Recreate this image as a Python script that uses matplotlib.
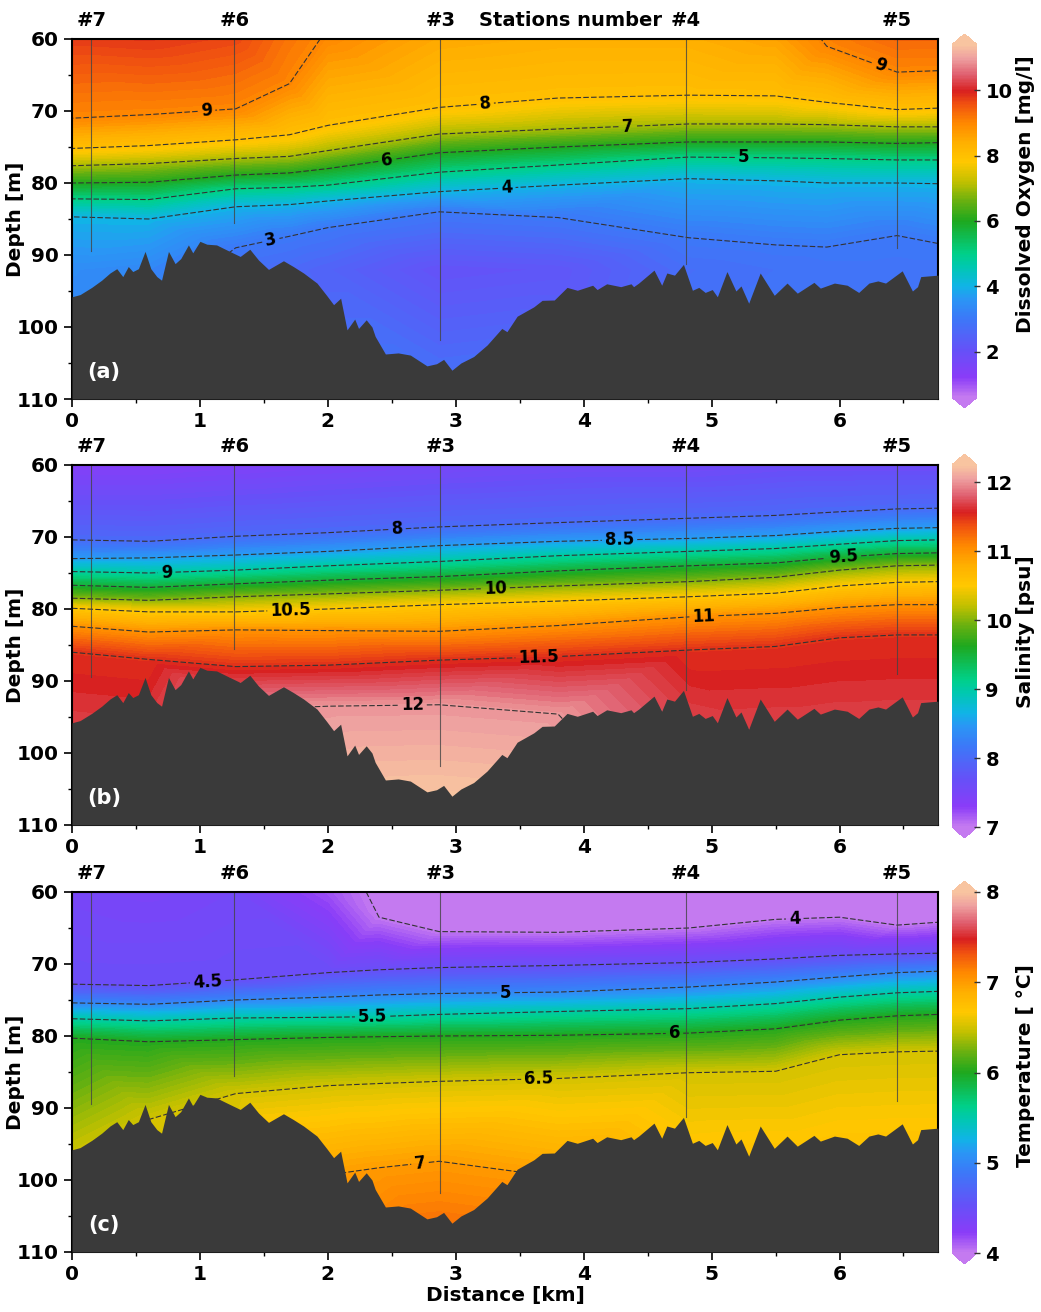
import numpy as np
import matplotlib.pyplot as plt
import matplotlib.tri as mtri
from matplotlib.colors import LinearSegmentedColormap, Normalize
from matplotlib.cm import ScalarMappable

plt.rcParams['font.family'] = 'DejaVu Sans'
plt.rcParams['font.weight'] = 'bold'
plt.rcParams['axes.labelweight'] = 'bold'
plt.rcParams['lines.dashed_pattern'] = [5, 2]

nan = np.nan

# sea floor along the transect (km, m) - same for all three sections
bathy_x = [0.0, 0.063, 0.154, 0.232, 0.297, 0.35, 0.397, 0.44, 0.475, 0.519, 0.571, 0.616,
           0.663, 0.70, 0.754, 0.806, 0.85, 0.91, 0.944, 1.0, 1.054, 1.13, 1.21, 1.315,
           1.39, 1.458, 1.536, 1.653, 1.73, 1.81, 1.915, 1.99, 2.045, 2.10, 2.15, 2.21,
           2.24, 2.30, 2.345, 2.37, 2.45, 2.55, 2.645, 2.775, 2.85, 2.905, 2.97, 3.04,
           3.14, 3.245, 3.36, 3.40, 3.48, 3.61, 3.675, 3.77, 3.87, 3.95, 4.07, 4.105,
           4.18, 4.29, 4.37, 4.39, 4.43, 4.55, 4.61, 4.65, 4.71, 4.78, 4.85, 4.90, 4.95,
           5.005, 5.045, 5.12, 5.19, 5.23, 5.29, 5.38, 5.49, 5.59, 5.67, 5.80, 5.85, 5.96,
           6.06, 6.15, 6.23, 6.30, 6.36, 6.49, 6.57, 6.61, 6.635, 6.77]
bathy_depth = [95.8, 95.5, 94.5, 93.5, 92.5, 91.9, 93.0, 91.6, 92.3, 91.9, 89.5, 91.9,
               93.0, 93.5, 89.5, 91.2, 90.5, 88.6, 89.7, 88.1, 88.5, 88.6, 89.3, 90.2,
               89.2, 90.7, 92.0, 90.8, 91.6, 92.5, 93.9, 95.6, 96.9, 96.0, 100.4, 98.9,
               100.2, 99.0, 100.0, 101.3, 103.75, 103.6, 103.9, 105.4, 105.1, 104.5, 106.0, 105.0,
               104.1, 102.5, 100.2, 100.65, 98.5, 97.2, 96.3, 96.25, 94.5, 94.9, 94.2, 94.8,
               94.0, 94.4, 94.0, 94.4, 93.9, 92.1, 94.2, 92.5, 92.8, 91.3, 94.9, 94.5, 95.2,
               94.8, 95.8, 92.3, 95.0, 94.3, 96.7, 92.5, 95.6, 93.9, 95.3, 93.8, 94.6, 93.9,
               94.2, 95.2, 93.9, 93.6, 93.9, 92.2, 95.0, 94.4, 93.0, 92.8]

station_names = ['#7', '#6', '#3', '#4', '#5']
station_x = [0.15, 1.27, 2.88, 4.80, 6.45]
station_end = [89.5, 85.6, 101.8, 91.2, 89.0]

# (a) dissolved oxygen: depth of each isoline at a set of distances
ox_cols = [0, 0.6, 1.28, 1.7, 2.0, 2.87, 3.8, 4.82, 5.5, 5.9, 6.45, 6.77]
ox_levels = [9, 8, 7, 6, 5, 4, 3]
ox_depths = [
    [71.0, 70.5, 69.7, 66.2, nan, nan, nan, nan, nan, 61.0, 64.6, 64.4],
    [75.2, 74.8, 74.0, 73.3, 72.0, 69.5, 68.2, 67.8, 67.9, 68.8, 69.8, 69.6],
    [77.6, 77.3, 76.6, 76.3, 75.5, 73.2, 72.5, 71.8, 71.8, 71.9, 72.2, 72.2],
    [80.0, 79.9, 78.9, 78.6, 78.0, 75.8, 75.0, 74.3, 74.3, 74.3, 74.5, 74.4],
    [82.2, 82.3, 80.8, 80.6, 80.3, 78.5, 77.5, 76.4, 76.5, 76.6, 76.8, 76.8],
    [84.7, 85.0, 83.3, 83.0, 82.5, 81.2, 80.3, 79.4, 79.7, 80.0, 80.0, 80.1],
    [nan, nan, 89.0, 87.4, 86.2, 84.0, 84.8, 87.6, 88.6, 88.9, 87.3, 88.4],
]
ox_top = [9.75, 9.8, 9.65, 9.2, 8.95, 8.5, 8.4, 8.4, 8.6, 9.05, 9.35, 9.35]
ox_mid_depth = 92
ox_mid = [3.4, 3.3, 2.85, 2.65, 2.5, 2.05, 2.15, 2.75, 2.85, 2.9, 2.9, 2.9]
ox_bottom = [3.2, 3.2, 3.2, 2.95, 2.95, 2.95, 2.95, 2.95, 2.95, 2.95, 2.95, 2.95]

# (b) salinity
sal_cols = [0, 0.6, 1.28, 2.0, 2.87, 3.8, 4.82, 5.5, 6.0, 6.45, 6.77]
sal_levels = [8, 8.5, 9, 9.5, 10, 10.5, 11, 11.5, 12]
sal_depths = [
    [70.4, 70.6, 69.9, 69.4, 68.6, 68.0, 67.4, 67.0, 66.5, 66.1, 66.0],
    [73.0, 72.9, 72.5, 72.0, 71.2, 70.6, 70.2, 69.8, 69.2, 68.8, 68.7],
    [74.8, 75.0, 74.6, 74.0, 73.4, 72.6, 72.0, 71.6, 71.0, 70.5, 70.4],
    [76.7, 77.0, 76.5, 76.0, 75.5, 74.7, 74.0, 73.6, 72.8, 72.3, 72.2],
    [78.5, 78.8, 78.3, 77.9, 77.4, 76.8, 76.2, 75.6, 74.6, 74.0, 73.9],
    [79.9, 80.4, 80.4, 80.0, 79.4, 78.9, 78.3, 77.8, 76.8, 76.3, 76.2],
    [82.4, 83.2, 82.9, 83.0, 83.1, 82.3, 81.1, 80.6, 79.8, 79.4, 79.4],
    [86.0, 87.0, 88.0, 87.8, 87.1, 86.6, 85.7, 85.2, 84.0, 83.6, 83.6],
    [nan, nan, 94.0, 93.5, 93.3, 94.6, nan, nan, nan, nan, nan],
]
sal_top = [7.35, 7.35, 7.4, 7.45, 7.5, 7.55, 7.55, 7.6, 7.6, 7.6, 7.6]
sal_bottom = [11.9, 11.9, 12.1, 12.3, 12.35, 12.2, 11.95, 11.9, 11.9, 11.9, 11.9]

# (c) temperature
tem_cols = [0, 0.6, 1.28, 2.0, 2.4, 2.87, 3.8, 4.82, 5.5, 6.0, 6.45, 6.77]
tem_levels = [4, 4.5, 5, 5.5, 6, 6.5, 7]
tem_depths = [
    [nan, nan, nan, nan, 63.5, 65.5, 65.6, 65.0, 63.8, 63.5, 64.6, 64.2],
    [72.8, 73.0, 72.2, 71.2, 70.8, 70.5, 70.2, 69.8, 69.3, 68.8, 68.6, 68.5],
    [75.4, 75.6, 75.0, 74.6, 74.3, 74.1, 73.9, 73.2, 72.5, 71.8, 71.2, 71.0],
    [77.6, 77.9, 77.5, 77.4, 77.3, 77.0, 76.6, 76.2, 75.5, 74.6, 74.0, 73.8],
    [80.3, 80.8, 80.5, 80.2, 80.1, 80.0, 79.9, 79.6, 79.0, 77.8, 77.2, 77.0],
    [97.0, 91.6, 88.0, 86.9, 86.6, 86.3, 85.9, 85.1, 84.9, 82.6, 82.2, 82.1],
    [nan, nan, nan, 99.3, 98.3, 97.4, 99.6, nan, nan, nan, nan, nan],
]
tem_top = [4.38, 4.35, 4.4, 4.15, 3.95, 3.9, 3.9, 3.9, 3.95, 3.95, 3.9, 3.9]
tem_bottom = [6.6, 6.6, 6.7, 7.1, 7.2, 7.3, 7.15, 6.98, 7.0, 7.0, 7.0, 7.0]

cmap = LinearSegmentedColormap.from_list('section', [
    (0.0, '#c47af0'), (0.055, '#8a3cf8'), (0.13, '#6650f8'), (0.222, '#3c78f8'),
    (0.278, '#2a96f5'), (0.315, '#10b4e6'), (0.37, '#00c8b0'), (0.407, '#00d088'),
    (0.5, '#1ea81e'), (0.556, '#68b010'), (0.61, '#c0c000'), (0.667, '#ffc800'),
    (0.722, '#ffb000'), (0.778, '#ff8800'), (0.833, '#f05010'), (0.87, '#d82020'),
    (0.917, '#e06070'), (0.963, '#eea0a0'), (1.0, '#f8c4a0')])
cmap.set_under('#c47af0')
cmap.set_over('#f8c4a0')


def section_points(cols, levels, depths, top, bottom, mid_depth=None, mid=None):
    xs, ys, vs = [], [], []
    for i, x in enumerate(cols):
        xs += [x, x]
        ys += [60, 110]
        vs += [top[i], bottom[i]]
        if mid is not None:
            xs.append(x)
            ys.append(mid_depth)
            vs.append(mid[i])
        for lev, row in zip(levels, depths):
            if not np.isnan(row[i]):
                xs.append(x)
                ys.append(row[i])
                vs.append(lev)
    xs, ys, vs = np.array(xs, float), np.array(ys, float), np.array(vs, float)
    # triangulate in screen-like proportions (1 km ~ 17.75 m)
    t = mtri.Triangulation(xs * 17.75, ys)
    return mtri.Triangulation(xs, ys, t.triangles), vs


W, H = 1041, 1312
fig = plt.figure(figsize=(W / 100, H / 100), dpi=100)


def draw_panel(top_px, cb_top, cb_bot, tri, vals, vmin, vmax, line_levels, label_pos,
               ticks, cblabel, cb_label_y, letter, last=False, first=False):
    ax = fig.add_axes([72 / W, 1 - (top_px + 360) / H, 866 / W, 360 / H])
    cax = fig.add_axes([952 / W, 1 - cb_bot / H, 25 / W, (cb_bot - cb_top) / H])
    norm = Normalize(vmin, vmax)
    ax.tricontourf(tri, vals, levels=np.linspace(vmin, vmax, 121), cmap=cmap, norm=norm,
                   extend='both')
    ax.set_xlim(0, 6.77)
    ax.set_ylim(110, 60)
    cs = ax.tricontour(tri, vals, levels=line_levels, colors='#333333', linewidths=0.8,
                       linestyles='dashed')
    for sx, se in zip(station_x, station_end):
        ax.plot([sx, sx], [60, se], color='#444444', lw=0.8, alpha=0.8)
    ax.fill_between(bathy_x, bathy_depth, 110, color='#3a3a3a', lw=0, zorder=3)
    txts = ax.clabel(cs, fmt='%g', manual=label_pos, inline=True, fontsize=12,
                     inline_spacing=3)
    for t in txts:
        t.set_fontweight('bold')
        t.set_color('black')
        t.set_zorder(4)
    for name, sx in zip(station_names, station_x):
        ax.text(sx, 58.7, name, ha='center', va='bottom', fontsize=14, fontweight='bold')
    if first:
        ax.text(3.9, 58.7, 'Stations number', ha='center', va='bottom', fontsize=14,
                fontweight='bold')
    ax.text(0.25, 106.3, letter, color='white', ha='center', va='center', fontsize=15,
            fontweight='bold', zorder=5)
    ax.set_xticks(range(7))
    ax.set_xticks(np.arange(0.5, 6.8, 1), minor=True)
    ax.set_yticks(range(60, 111, 10))
    ax.set_yticks(range(65, 110, 10), minor=True)
    ax.tick_params(which='major', length=6, width=1.2, labelsize=14.5, direction='out')
    ax.tick_params(which='minor', length=3, width=1, direction='out')
    for s in ax.spines.values():
        s.set_linewidth(1.5)
    ax.set_ylabel('Depth [m]', fontsize=14.5, fontweight='bold')
    ax.yaxis.set_label_coords(-0.054, 0.5)
    if last:
        ax.set_xlabel('Distance [km]', fontsize=14.5, fontweight='bold', labelpad=1)

    cb = fig.colorbar(ScalarMappable(norm=norm, cmap=cmap), cax=cax, extend='both',
                      extendfrac=0.03, ticks=ticks)
    cb.outline.set_visible(False)
    cb.ax.tick_params(labelsize=14, length=5, width=1, direction='inout', color='#333333')
    cb.set_label(cblabel, fontsize=14.5, fontweight='bold')
    cb.ax.yaxis.set_label_coords(2.55, cb_label_y)


tri_a, val_a = section_points(ox_cols, ox_levels, ox_depths, ox_top, ox_bottom,
                              ox_mid_depth, ox_mid)
draw_panel(39, 34, 408, tri_a, val_a, 0.6, 11.4, ox_levels[::-1],
           [(1.05, 69.7), (3.23, 69.0), (4.34, 71.7), (2.46, 76.6), (5.25, 76.5),
            (3.4, 81.0), (1.55, 87.6), (6.3, 64.5)],
           [2, 4, 6, 8, 10], 'Dissolved Oxygen [mg/l]', 0.575, '(a)', first=True)

tri_b, val_b = section_points(sal_cols, sal_levels, sal_depths, sal_top, sal_bottom)
draw_panel(465, 454, 838, tri_b, val_b, 7.0, 12.25, sal_levels,
           [(2.54, 68.6), (4.28, 70.3), (0.74, 74.9), (6.03, 72.6), (3.31, 77.4),
            (1.71, 80.3), (4.94, 81.1), (3.65, 87.0), (2.66, 93.4)],
           [7, 8, 9, 10, 11, 12], 'Salinity [psu]', 0.54, '(b)')

tri_c, val_c = section_points(tem_cols, tem_levels, tem_depths, tem_top, tem_bottom)
draw_panel(892, 881, 1264, tri_c, val_c, 4.0, 8.0, tem_levels,
           [(5.65, 63.6), (1.06, 72.3), (3.39, 73.9), (2.35, 77.3), (4.71, 79.6),
            (3.65, 86.1), (2.72, 97.6)],
           [4, 5, 6, 7, 8], 'Temperature [ °C]', 0.52, '(c)', last=True)

fig.savefig('out.png', dpi=100)
